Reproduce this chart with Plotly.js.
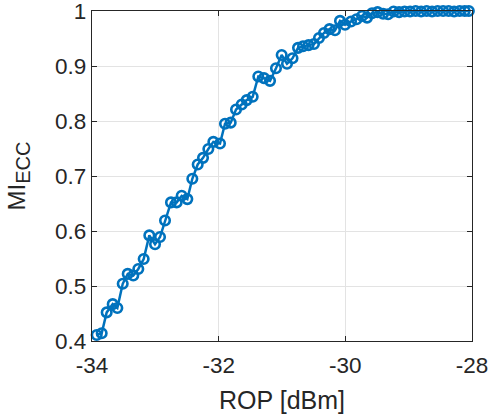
<!DOCTYPE html>
<html>
<head>
<meta charset="utf-8">
<script src="https://cdn.plot.ly/plotly-3.0.1.min.js"></script>
<style>html,body{margin:0;padding:0;background:#fff;}#chart{width:488px;height:414px;}</style>
</head>
<body>
<div id="chart"></div>
<script>
const rop = [-33.926,-33.847,-33.768,-33.673,-33.600,-33.515,-33.436,-33.348,-33.269,-33.184,
  -33.095,-33.005,-32.926,-32.847,-32.753,-32.663,-32.584,-32.495,-32.416,-32.331,
  -32.247,-32.163,-32.084,-31.979,-31.900,-31.810,-31.726,-31.636,-31.557,-31.463,
  -31.374,-31.284,-31.189,-31.095,-31.005,-30.921,-30.834,-30.747,-30.668,-30.581,
  -30.495,-30.416,-30.337,-30.250,-30.163,-30.084,-30.005,-29.910,-29.823,-29.736,
  -29.657,-29.578,-29.491,-29.404,-29.325,-29.238,-29.151,-29.064,-28.977,-28.890,
  -28.803,-28.716,-28.630,-28.543,-28.456,-28.369,-28.282,-28.195,-28.115,-28.050];
const miEcc = [0.411,0.414,0.452,0.467,0.460,0.504,0.522,0.519,0.531,0.549,
  0.592,0.576,0.589,0.619,0.652,0.652,0.664,0.658,0.695,0.721,
  0.733,0.749,0.762,0.759,0.795,0.797,0.821,0.830,0.838,0.844,
  0.881,0.878,0.873,0.896,0.920,0.904,0.914,0.933,0.936,0.938,
  0.940,0.951,0.960,0.967,0.965,0.982,0.975,0.981,0.985,0.991,
  0.988,0.996,0.998,0.995,0.994,0.999,0.998,0.999,0.999,1.000,
  0.999,1.000,0.999,1.000,1.000,1.000,0.999,1.000,1.000,1.000];
const xTicks = [-34,-32,-30,-28];
const yTicks = [0.4,0.5,0.6,0.7,0.8,0.9,1];
const yTickText = ['0.4','0.5','0.6','0.7','0.8','0.9','1'];

const trace = {
  x: rop, y: miEcc, type: 'scatter', mode: 'lines+markers',
  line: {color: '#0072BD', width: 2.5},
  marker: {symbol: 'circle-open', size: 9.5, color: '#0072BD', line: {width: 2.6, color: '#0072BD'}},
  cliponaxis: false, hoverinfo: 'none'
};
const font = {family: '"Liberation Sans", Arial, sans-serif', color: '#262626'};
const layout = {
  width: 488, height: 414,
  margin: {l: 92, r: 16, t: 11, b: 73},
  paper_bgcolor: '#fff', plot_bgcolor: '#fff',
  showlegend: false,
  font: Object.assign({size: 22}, font),
  xaxis: {
    range: [-34, -28], tickvals: xTicks, ticktext: xTicks.map(String),
    showgrid: true, gridcolor: '#e3e3e3', gridwidth: 1,
    zeroline: false, showline: true, linecolor: '#262626', linewidth: 1.3,
    mirror: 'ticks', ticks: 'inside', ticklen: 5, tickcolor: '#262626',
    tickfont: Object.assign({size: 22.5}, font), ticklabeloverflow: 'allow', ticklabelstandoff: 4,
    title: {text: 'ROP [dBm]', font: Object.assign({size: 25}, font), standoff: 15},
    automargin: false
  },
  yaxis: {
    range: [0.4, 1], tickvals: yTicks, ticktext: yTickText,
    showgrid: true, gridcolor: '#e3e3e3', gridwidth: 1,
    zeroline: false, showline: true, linecolor: '#262626', linewidth: 1.3,
    mirror: 'ticks', ticks: 'inside', ticklen: 5, tickcolor: '#262626',
    tickfont: Object.assign({size: 22.5}, font), ticklabeloverflow: 'allow',
    title: {text: 'MI<sub><span style="font-size:20px">ECC</span></sub>', font: Object.assign({size: 24}, font), standoff: 22},
    automargin: false
  }
};
Plotly.newPlot('chart', [trace], layout, {staticPlot: true, displayModeBar: false});
</script>
</body>
</html>
